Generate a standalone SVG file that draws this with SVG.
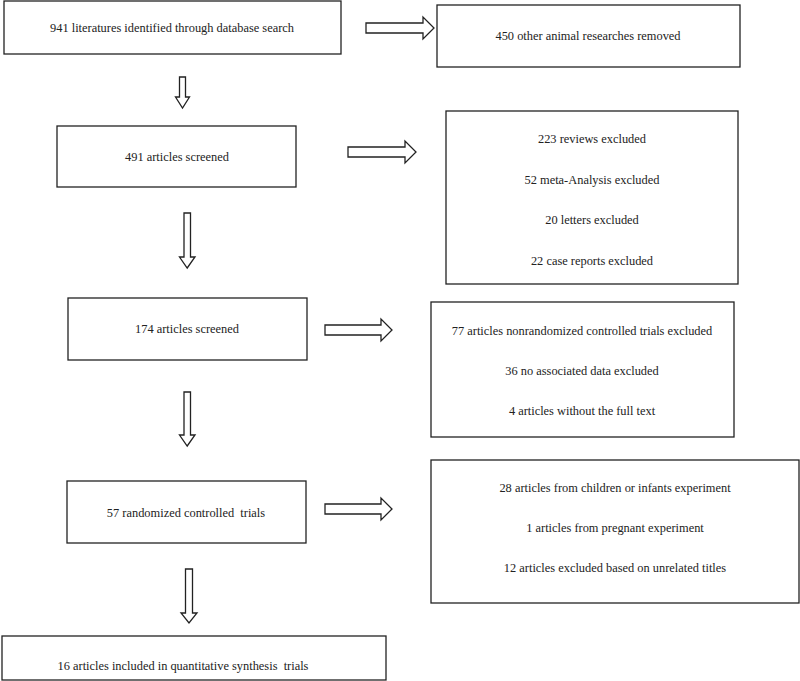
<svg xmlns="http://www.w3.org/2000/svg" width="800" height="681" viewBox="0 0 800 681">
<style>
.box{fill:#fff;stroke:#222;stroke-width:1.3}
.arr{fill:#fff;stroke:#222;stroke-width:1.3;stroke-linejoin:miter}
.t{font-family:'Liberation Serif','Times New Roman','DejaVu Serif',serif;font-size:12.4px;fill:#222;text-anchor:middle;white-space:pre}
</style>
<rect width="800" height="681" fill="#fff"/>
<g id="connectors">
<polygon class="arr" points="366,23 423,23 423,17 434,28 423,39 423,33 366,33"/>
<polygon class="arr" points="348,147 405,147 405,141 416,152 405,163 405,157 348,157"/>
<polygon class="arr" points="325,325 381,325 381,319 392,330 381,341 381,335 325,335"/>
<polygon class="arr" points="325,504 381,504 381,498 392,509 381,520 381,514 325,514"/>
<polygon class="arr" points="179.5,77 185.5,77 185.5,97 189.5,97 182.5,108 175.5,97 179.5,97"/>
<polygon class="arr" points="184,213 190.5,213 190.5,257 195,257 187.2,268 179.5,257 184,257"/>
<polygon class="arr" points="184,392 190.5,392 190.5,435 195,435 187.2,446 179.5,435 184,435"/>
<polygon class="arr" points="185.5,569 192.5,569 192.5,613 197,613 189,623 181,613 185.5,613"/>
</g>
<g id="n1"><rect class="box" x="4" y="1" width="337" height="53"/><text class="t" x="172" y="32">941 literatures identified through database search</text></g>
<g id="n2"><rect class="box" x="437" y="5" width="303" height="62"/><text class="t" x="588" y="40">450 other animal researches removed</text></g>
<g id="n3"><rect class="box" x="57" y="126" width="239" height="61"/><text class="t" x="177" y="161">491 articles screened</text></g>
<g id="n4"><rect class="box" x="446" y="111" width="292" height="173"/>
<text class="t" x="592" y="143">223 reviews excluded</text>
<text class="t" x="592" y="184">52 meta-Analysis excluded</text>
<text class="t" x="592" y="224">20 letters excluded</text>
<text class="t" x="592" y="265">22 case reports excluded</text></g>
<g id="n5"><rect class="box" x="68" y="298" width="239" height="62"/><text class="t" x="187" y="333">174 articles screened</text></g>
<g id="n6"><rect class="box" x="431" y="302" width="303" height="135"/>
<text class="t" x="582" y="335">77 articles nonrandomized controlled trials excluded</text>
<text class="t" x="582" y="375">36 no associated data excluded</text>
<text class="t" x="582" y="415">4 articles without the full text</text></g>
<g id="n7"><rect class="box" x="67" y="481" width="239" height="62"/><text class="t" x="186" y="517">57 randomized controlled  trials</text></g>
<g id="n8"><rect class="box" x="431" y="460" width="368" height="143"/>
<text class="t" x="615" y="492">28 articles from children or infants experiment</text>
<text class="t" x="615" y="532">1 articles from pregnant experiment</text>
<text class="t" x="615" y="572">12 articles excluded based on unrelated titles</text></g>
<g id="n9"><rect class="box" x="2" y="636" width="384" height="44"/><text class="t" x="183" y="670">16 articles included in quantitative synthesis  trials</text></g>
</svg>
